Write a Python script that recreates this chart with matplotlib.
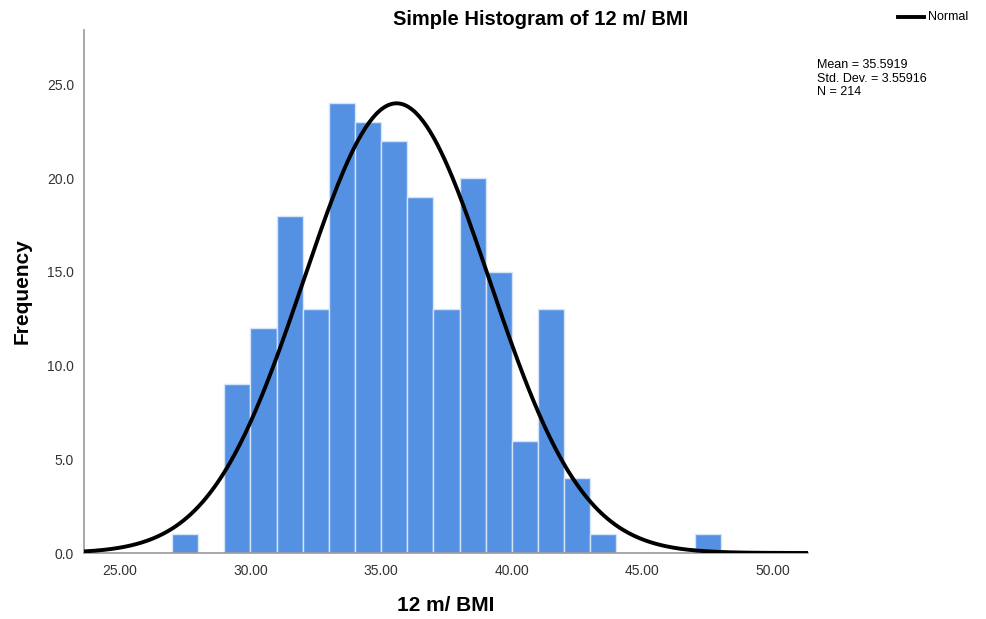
import numpy as np
import matplotlib
matplotlib.use('Agg')
import matplotlib.pyplot as plt

plt.rcParams['font.family'] = ['Liberation Sans', 'DejaVu Sans']

# histogram bins (width 1.0) and counts
bin_left = [27, 28, 29, 30, 31, 32, 33, 34, 35, 36, 37, 38, 39, 40, 41, 42, 43, 44, 45, 46, 47]
counts = [1, 0, 9, 12, 18, 13, 24, 23, 22, 19, 13, 20, 15, 6, 13, 4, 1, 0, 0, 0, 1]
bin_width = 1.0

mean = 35.5919
std = 3.55916
n = 214

x_ticks = [25, 30, 35, 40, 45, 50]
y_ticks = [0, 5, 10, 15, 20, 25]

xmin, xmax = 23.62, 51.34

fig = plt.figure(figsize=(9.86, 6.19), dpi=100)
ax = fig.add_axes([0.085, 0.1066, 0.7345, 0.845])

ax.bar(bin_left, counts, width=bin_width, align='edge', color='#5591e2',
       edgecolor='#d5e4f7', linewidth=1.0, zorder=2)

# fitted normal curve scaled to counts
xs = np.linspace(xmin, xmax, 400)
ys = n * bin_width / (std * np.sqrt(2 * np.pi)) * np.exp(-0.5 * ((xs - mean) / std) ** 2)
ax.plot(xs, ys, color='black', linewidth=2.8, zorder=3)

ax.set_xlim(xmin, xmax)
ax.set_ylim(0, 27.9)
ax.set_xticks(x_ticks)
ax.set_xticklabels(['%.2f' % v for v in x_ticks])
ax.set_yticks(y_ticks)
ax.set_yticklabels(['%.1f' % v for v in y_ticks])
ax.tick_params(axis='x', length=0, labelsize=10, colors='#333333', pad=8)
ax.tick_params(axis='y', length=0, labelsize=10, colors='#333333', pad=7)
for s in ['top', 'right']:
    ax.spines[s].set_visible(False)
for s in ['left', 'bottom']:
    ax.spines[s].set_color('#999999')
    ax.spines[s].set_linewidth(1.2)

fig.text(0.548, 0.968, 'Simple Histogram of 12 m/ BMI', ha='center', va='center',
         fontsize=14.5, fontweight='bold')
fig.text(0.022, 0.53, 'Frequency', rotation=90, ha='center', va='center',
         fontsize=15, fontweight='bold')
fig.text(0.452, 0.022, '12 m/ BMI', ha='center', va='center',
         fontsize=15, fontweight='bold')

# legend
fig.lines.append(plt.Line2D([0.911, 0.937], [0.973, 0.973], color='black',
                            linewidth=2.8, transform=fig.transFigure))
fig.text(0.941, 0.973, 'Normal', ha='left', va='center', fontsize=9)
fig.text(0.829, 0.905, 'Mean = %.4f\nStd. Dev. = %.5f\nN = %d' % (mean, std, n),
         ha='left', va='top', fontsize=9, linespacing=1.2)

fig.savefig('out.png', dpi=100)
